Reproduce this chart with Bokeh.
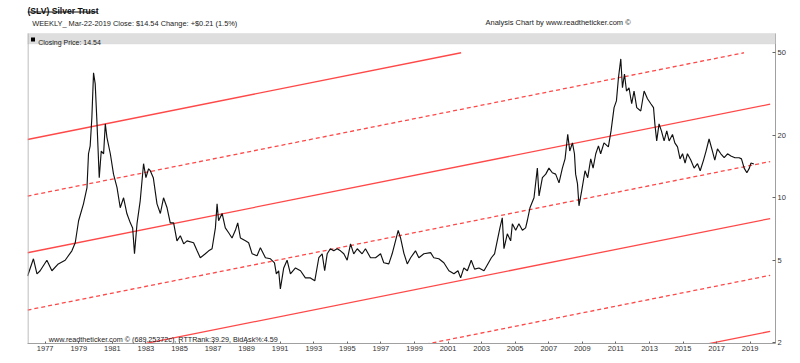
from bokeh.plotting import figure
from bokeh.models import Range1d, FixedTicker, Label, BoxAnnotation, BasicTickFormatter
from bokeh.embed import file_html
from bokeh.resources import INLINE
import numpy as np

# ---- data (decimal year, closing price) ----
years = [1975.95, 1976.30, 1976.51, 1976.70, 1977.10, 1977.40, 1977.78, 1978.19, 1978.59, 1978.79,
         1978.99, 1979.28, 1979.49, 1979.58, 1979.68, 1979.78, 1979.88, 1979.98, 1980.08, 1980.22,
         1980.34, 1980.48, 1980.58, 1980.68, 1980.88, 1981.07, 1981.28, 1981.47, 1981.67, 1981.87,
         1982.07, 1982.21, 1982.32, 1982.47, 1982.66, 1982.86, 1983.00, 1983.16, 1983.26, 1983.44,
         1983.66, 1983.86, 1984.05, 1984.26, 1984.45, 1984.65, 1984.85, 1985.05, 1985.25, 1985.45,
         1985.84, 1986.05, 1986.24, 1986.54, 1986.74, 1986.94, 1987.14, 1987.24, 1987.33, 1987.54,
         1987.73, 1987.93, 1988.13, 1988.33, 1988.47, 1988.63, 1988.93, 1989.12, 1989.33, 1989.62,
         1989.82, 1990.12, 1990.42, 1990.66, 1990.77, 1990.91, 1991.01, 1991.21, 1991.41, 1991.61,
         1991.91, 1992.21, 1992.50, 1992.80, 1993.06, 1993.30, 1993.50, 1993.65, 1993.80, 1993.99,
         1994.19, 1994.39, 1994.59, 1994.79, 1994.99, 1995.19, 1995.38, 1995.59, 1995.88, 1996.08,
         1996.38, 1996.68, 1996.98, 1997.17, 1997.47, 1997.67, 1997.87, 1998.03, 1998.17, 1998.37,
         1998.57, 1998.77, 1999.06, 1999.26, 1999.56, 1999.96, 2000.15, 2000.45, 2000.75, 2001.05,
         2001.35, 2001.59, 2001.75, 2001.94, 2002.15, 2002.38, 2002.58, 2002.84, 2003.14, 2003.37,
         2003.58, 2003.77, 2003.93, 2004.09, 2004.23, 2004.33, 2004.53, 2004.73, 2004.83, 2005.03,
         2005.22, 2005.43, 2005.62, 2005.72, 2005.88, 2006.12, 2006.32, 2006.42, 2006.62, 2006.82,
         2007.01, 2007.21, 2007.41, 2007.61, 2007.81, 2007.97, 2008.13, 2008.25, 2008.41, 2008.53,
         2008.60, 2008.71, 2008.80, 2008.96, 2009.16, 2009.32, 2009.50, 2009.64, 2009.80, 2009.96,
         2010.09, 2010.29, 2010.55, 2010.71, 2010.89, 2011.03, 2011.15, 2011.29, 2011.39, 2011.51,
         2011.63, 2011.78, 2011.94, 2012.08, 2012.24, 2012.48, 2012.68, 2012.88, 2013.08, 2013.24,
         2013.32, 2013.43, 2013.57, 2013.71, 2013.87, 2014.03, 2014.17, 2014.37, 2014.51, 2014.67,
         2014.82, 2014.97, 2015.12, 2015.26, 2015.46, 2015.66, 2015.86, 2016.02, 2016.22, 2016.37,
         2016.55, 2016.75, 2016.89, 2017.05, 2017.25, 2017.45, 2017.65, 2017.85, 2018.09, 2018.34,
         2018.48, 2018.64, 2018.80, 2018.95, 2019.04, 2019.22]
prices = [4.20, 5.08, 4.30, 4.45, 5.00, 4.45, 4.80, 5.00, 5.55, 6.07,
          7.75, 9.35, 11.2, 16.3, 17.8, 24.3, 40.0, 35.4, 23.5, 12.5,
          16.8, 16.3, 22.7, 19.5, 16.3, 13.0, 11.2, 8.95, 10.0, 8.37,
          7.57, 7.16, 5.37, 7.50, 9.67, 14.6, 12.5, 13.8, 13.5, 12.5,
          9.35, 8.40, 10.0, 8.95, 7.57, 7.57, 6.20, 6.56, 6.00, 6.20,
          6.07, 5.55, 5.14, 5.37, 5.55, 5.68, 7.16, 9.35, 7.75, 8.40,
          7.16, 6.78, 6.40, 6.97, 7.57, 6.40, 6.20, 6.07, 5.37, 5.25,
          5.75, 5.14, 5.08, 4.86, 4.30, 4.45, 3.64, 4.59, 5.00, 4.30,
          4.59, 4.45, 4.11, 4.11, 3.98, 5.14, 5.37, 4.45, 5.37, 5.68,
          5.55, 5.68, 5.55, 5.37, 5.00, 6.00, 5.37, 5.68, 5.37, 5.68,
          5.14, 5.14, 5.37, 4.86, 4.80, 5.37, 6.20, 6.97, 6.40, 5.40,
          4.80, 5.14, 5.55, 5.14, 5.37, 5.44, 5.14, 5.08, 4.86, 4.45,
          4.30, 4.45, 4.11, 4.59, 4.45, 5.00, 4.53, 4.59, 4.45, 4.80,
          5.14, 5.37, 6.20, 7.16, 8.00, 5.68, 6.70, 6.20, 7.50, 6.97,
          7.50, 6.97, 7.16, 7.75, 8.95, 10.0, 13.9, 10.2, 12.5, 13.0,
          13.9, 13.2, 13.0, 11.8, 13.9, 15.4, 20.2, 16.8, 18.4, 16.3,
          13.0, 11.7, 9.15, 10.8, 13.5, 12.5, 15.4, 13.9, 16.3, 17.8,
          16.3, 18.4, 17.6, 21.0, 27.2, 29.3, 37.8, 46.7, 33.9, 39.5,
          32.7, 33.9, 28.4, 32.7, 27.2, 26.2, 32.7, 30.0, 28.4, 27.2,
          22.7, 18.8, 22.7, 21.0, 18.8, 21.0, 18.8, 20.2, 18.4, 17.6,
          15.4, 16.3, 14.7, 16.3, 15.2, 13.9, 14.6, 13.5, 15.2, 16.8,
          19.2, 16.8, 15.2, 17.2, 16.3, 15.6, 16.3, 15.9, 15.6, 15.6,
          15.4, 13.9, 13.2, 13.9, 14.7, 14.54]

x_ticks = list(range(1977, 2020, 2))
y_ticks = [2, 5, 10, 20, 50]

# trend channel: value of each line at the anchor year, common growth (decades / year)
channel_anchor_year = 2020.19
channel_values = [99.3, 53.0, 28.25, 14.95, 7.94, 4.23, 2.27]
channel_styles = ["solid", "dashed", "solid", "dashed", "solid", "dashed", "solid"]
channel_growth = 0.016183
channel_cap = 50.0

title_text = "(SLV) Silver Trust"
info_text = "WEEKLY_  Mar-22-2019   Close: $14.54   Change: +$0.21   (1.5%)"
credit_text = "Analysis Chart by www.readtheticker.com \u00a9"
legend_text = "Closing Price: 14.54"
watermark_text = "www.readtheticker.com \u00a9 (689.25372c), RTTRank:39.29, BidAsk%:4.59"

FONT = "Liberation Sans"
X0, X1 = 1975.946, 2020.507
Y_BOTTOM, Y_PANEL_TOP, Y_TOP = 1.9845, 61.96, 89.3

# frame covers the whole header too (texts live inside it); border drawn by hand
p = figure(width=800, height=363, output_backend="svg", toolbar_location=None,
           x_range=Range1d(X0, X1), y_range=Range1d(Y_BOTTOM, Y_TOP),
           y_axis_type="log", y_axis_location="right",
           min_border_left=27, min_border_right=25, min_border_top=0, min_border_bottom=20)
p.background_fill_color = "white"
p.border_fill_color = "white"
p.outline_line_color = None
p.xgrid.visible = False
p.ygrid.visible = False

def screen_box(left, right, bottom, top, fill, line=None):
    p.add_layout(BoxAnnotation(left=left, right=right, bottom=bottom, top=top,
                               left_units="screen", right_units="screen",
                               bottom_units="screen", top_units="screen",
                               fill_color=fill, fill_alpha=1.0, line_color=line))

# gray legend bar and left border of the chart panel
screen_box(0, 748, 299.5, 310, "#dedede", "#cdcdcd")
screen_box(0, 1, 0, 310, "#a8a8a8")

# channel lines
for v, style in zip(channel_values, channel_styles):
    lv = np.log10(v)
    t_start = X0
    t_cap = channel_anchor_year + (np.log10(channel_cap) - lv) / channel_growth
    t_end = min(channel_anchor_year, t_cap)
    if t_end <= t_start:
        continue
    ts = np.array([t_start, t_end])
    vs = 10 ** (lv + channel_growth * (ts - channel_anchor_year))
    p.line(ts, vs, line_color="#ff4848", line_width=1.3,
           line_dash=("solid" if style == "solid" else "4 3"))

# price line
p.line(years, prices, line_color="#111111", line_width=1.15)

# axes
xa = p.xaxis[0]
xa.ticker = FixedTicker(ticks=x_ticks)
xa.major_label_text_font = FONT
xa.major_label_text_font_size = "7.5px"
xa.major_label_text_color = "#333333"
xa.major_tick_in = 2
xa.major_tick_out = 0
xa.minor_tick_line_color = None
xa.major_label_standoff = 2
xa.axis_line_color = "#a0a0a0"
xa.major_tick_line_color = "#666666"

ya = p.yaxis[0]
ya.ticker = FixedTicker(ticks=y_ticks)
ya.formatter = BasicTickFormatter()
ya.bounds = (Y_BOTTOM, Y_PANEL_TOP)
ya.major_label_text_font = FONT
ya.major_label_text_font_size = "7.5px"
ya.major_label_text_color = "#333333"
ya.major_tick_in = 3
ya.major_tick_out = 0
ya.minor_tick_line_color = None
ya.major_label_standoff = 2
ya.axis_line_color = "#a0a0a0"
ya.major_tick_line_color = "#666666"

# texts (screen units relative to frame: x from frame left, y from frame bottom)
def add_label(text, x, y, size, bold=False, color="#222222", align="left"):
    p.add_layout(Label(x=x, y=y, x_units="screen", y_units="screen", text=text,
                       text_font=FONT, text_font_size=size, text_color=color,
                       text_font_style=("bold" if bold else "normal"),
                       text_align=align, text_baseline="alphabetic"))

add_label(title_text, 0, 332.7, "8.6px", bold=True, color="#111111")
screen_box(0, 70, 331, 332, "#111111")
add_label(info_text, 4.7, 320.5, "7.4px")
add_label(credit_text, 458, 321, "7.5px")
add_label(legend_text, 10.7, 301.5, "7px")
screen_box(3.5, 7.5, 302, 306, "#000000")
add_label(watermark_text, 21.3, 4.5, "7.2px")

open("out.html", "w").write(file_html(p, INLINE))
